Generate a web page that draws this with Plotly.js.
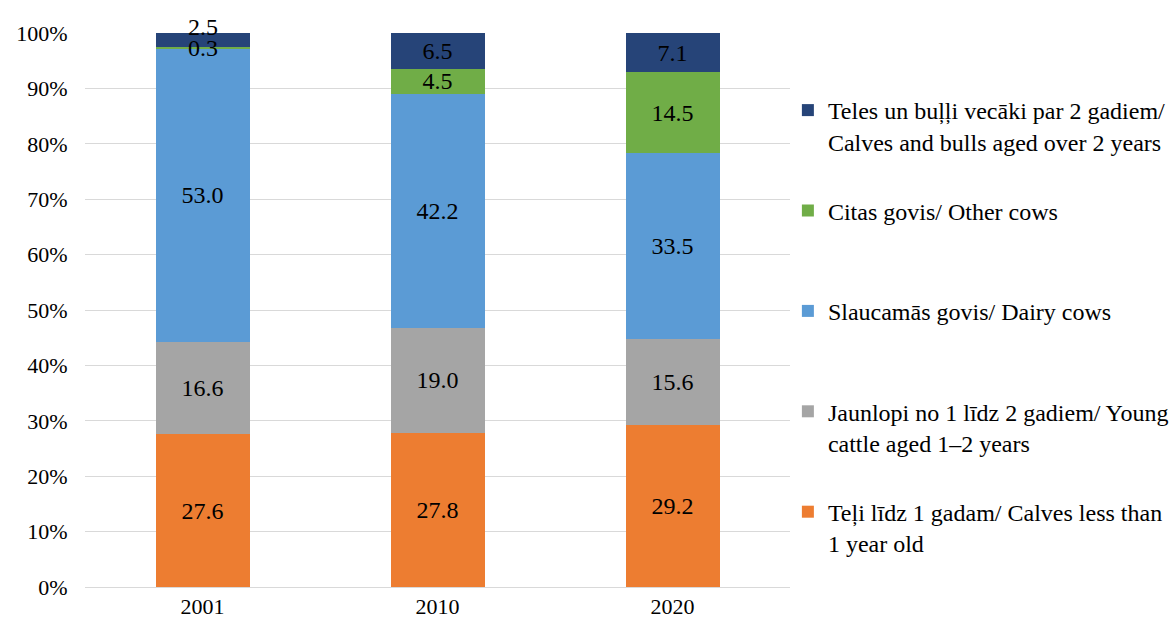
<!DOCTYPE html>
<html>
<head>
<meta charset="utf-8">
<script src="https://cdn.plot.ly/plotly-3.0.1.min.js"></script>
<style>html,body{margin:0;padding:0;background:#fff;}#chart{width:1176px;height:626px;}</style>
</head>
<body>
<div id="chart"></div>
<script>
const years = ['2001', '2010', '2020'];
const seriesNames = [
  'Teļi līdz 1 gadam/ Calves less than<br>1 year old',
  'Jaunlopi no 1 līdz 2 gadiem/ Young<br>cattle aged 1–2 years',
  'Slaucamās govis/ Dairy cows<br> ',
  'Citas govis/ Other cows<br> ',
  'Teles un buļļi vecāki par 2 gadiem/<br>Calves and bulls aged over 2 years'
];
const calves = [27.6, 27.8, 29.2];
const young = [16.6, 19.0, 15.6];
const dairy = [53.0, 42.2, 33.5];
const otherCows = [0.3, 4.5, 14.5];
const bulls = [2.5, 6.5, 7.1];
const seriesValues = [calves, young, dairy, otherCows, bulls];
const colors = ['#ED7D31', '#A5A5A5', '#5B9BD5', '#70AD47', '#264478'];

const FONT = 'Liberation Serif, Times New Roman, serif';
const LABEL_SIZE = 24, TICK_SIZE = 22, LEGEND_SIZE = 24;

// labels for the two thin 2001 segments are placed as annotations
const i2001 = years.indexOf('2001');
const thin = [[3, i2001], [4, i2001]];
const isThin = (i, j) => thin.some(t => t[0] === i && t[1] === j);

const traces = seriesValues.map((vals, i) => ({
  type: 'bar',
  x: years,
  y: vals,
  name: seriesNames[i],
  legendgroup: 'g' + i,
  legendrank: seriesValues.length - i,
  marker: {color: colors[i]},
  text: vals.map((v, j) => isThin(i, j) ? '' : v.toFixed(1)),
  textposition: 'inside',
  insidetextanchor: 'middle',
  textangle: 0,
  constraintext: 'none',
  textfont: {family: FONT, size: LABEL_SIZE, color: '#000'},
  hoverinfo: 'skip',
  width: 0.4
}));

function cumBelow(i, j) { let s = 0; for (let k = 0; k < i; k++) s += seriesValues[k][j]; return s; }
const annotations = [
  {x: i2001, y: cumBelow(3, i2001) + otherCows[i2001] / 2, yshift: 0, text: otherCows[i2001].toFixed(1)},
  {x: i2001, y: cumBelow(4, i2001) + bulls[i2001], yshift: 6, text: bulls[i2001].toFixed(1)}
].map(a => Object.assign({xref: 'x', yref: 'y', showarrow: false, yanchor: 'middle',
  font: {family: FONT, size: LABEL_SIZE, color: '#000'}}, a));

const plotTop = 33, plotBottom = 587;
function py(p) { return (plotBottom - p) / (plotBottom - plotTop); }

const layout = {
  width: 1176, height: 626,
  margin: {l: 85, r: 386, t: plotTop, b: 626 - plotBottom, autoexpand: false},
  paper_bgcolor: '#fff', plot_bgcolor: '#fff',
  barmode: 'stack',
  barnorm: 'percent',
  font: {family: FONT, size: TICK_SIZE, color: '#000'},
  showlegend: true,
  legend: {
    x: 0.997, xanchor: 'left',
    y: py(88), yanchor: 'top',
    traceorder: 'grouped',
    tracegroupgap: 35,
    valign: 'top',
    bgcolor: 'rgba(0,0,0,0)', borderwidth: 0,
    font: {family: FONT, size: LEGEND_SIZE, color: '#000'}
  },
  xaxis: {
    type: 'category',
    range: [-0.5, years.length - 0.5],
    showgrid: false,
    showline: true, linecolor: '#D9D9D9', linewidth: 1,
    ticks: '', tickfont: {family: FONT, size: TICK_SIZE, color: '#000'}
  },
  yaxis: {
    range: [0, 100],
    dtick: 10,
    ticksuffix: '%',
    showgrid: true, gridcolor: '#D9D9D9', gridwidth: 1,
    zeroline: false, showline: false,
    ticks: 'outside', ticklen: 12, tickcolor: 'rgba(0,0,0,0)',
    tickfont: {family: FONT, size: TICK_SIZE, color: '#000'}
  },
  annotations: annotations
};

Plotly.newPlot('chart', traces, layout, {displayModeBar: false});
</script>
</body>
</html>
